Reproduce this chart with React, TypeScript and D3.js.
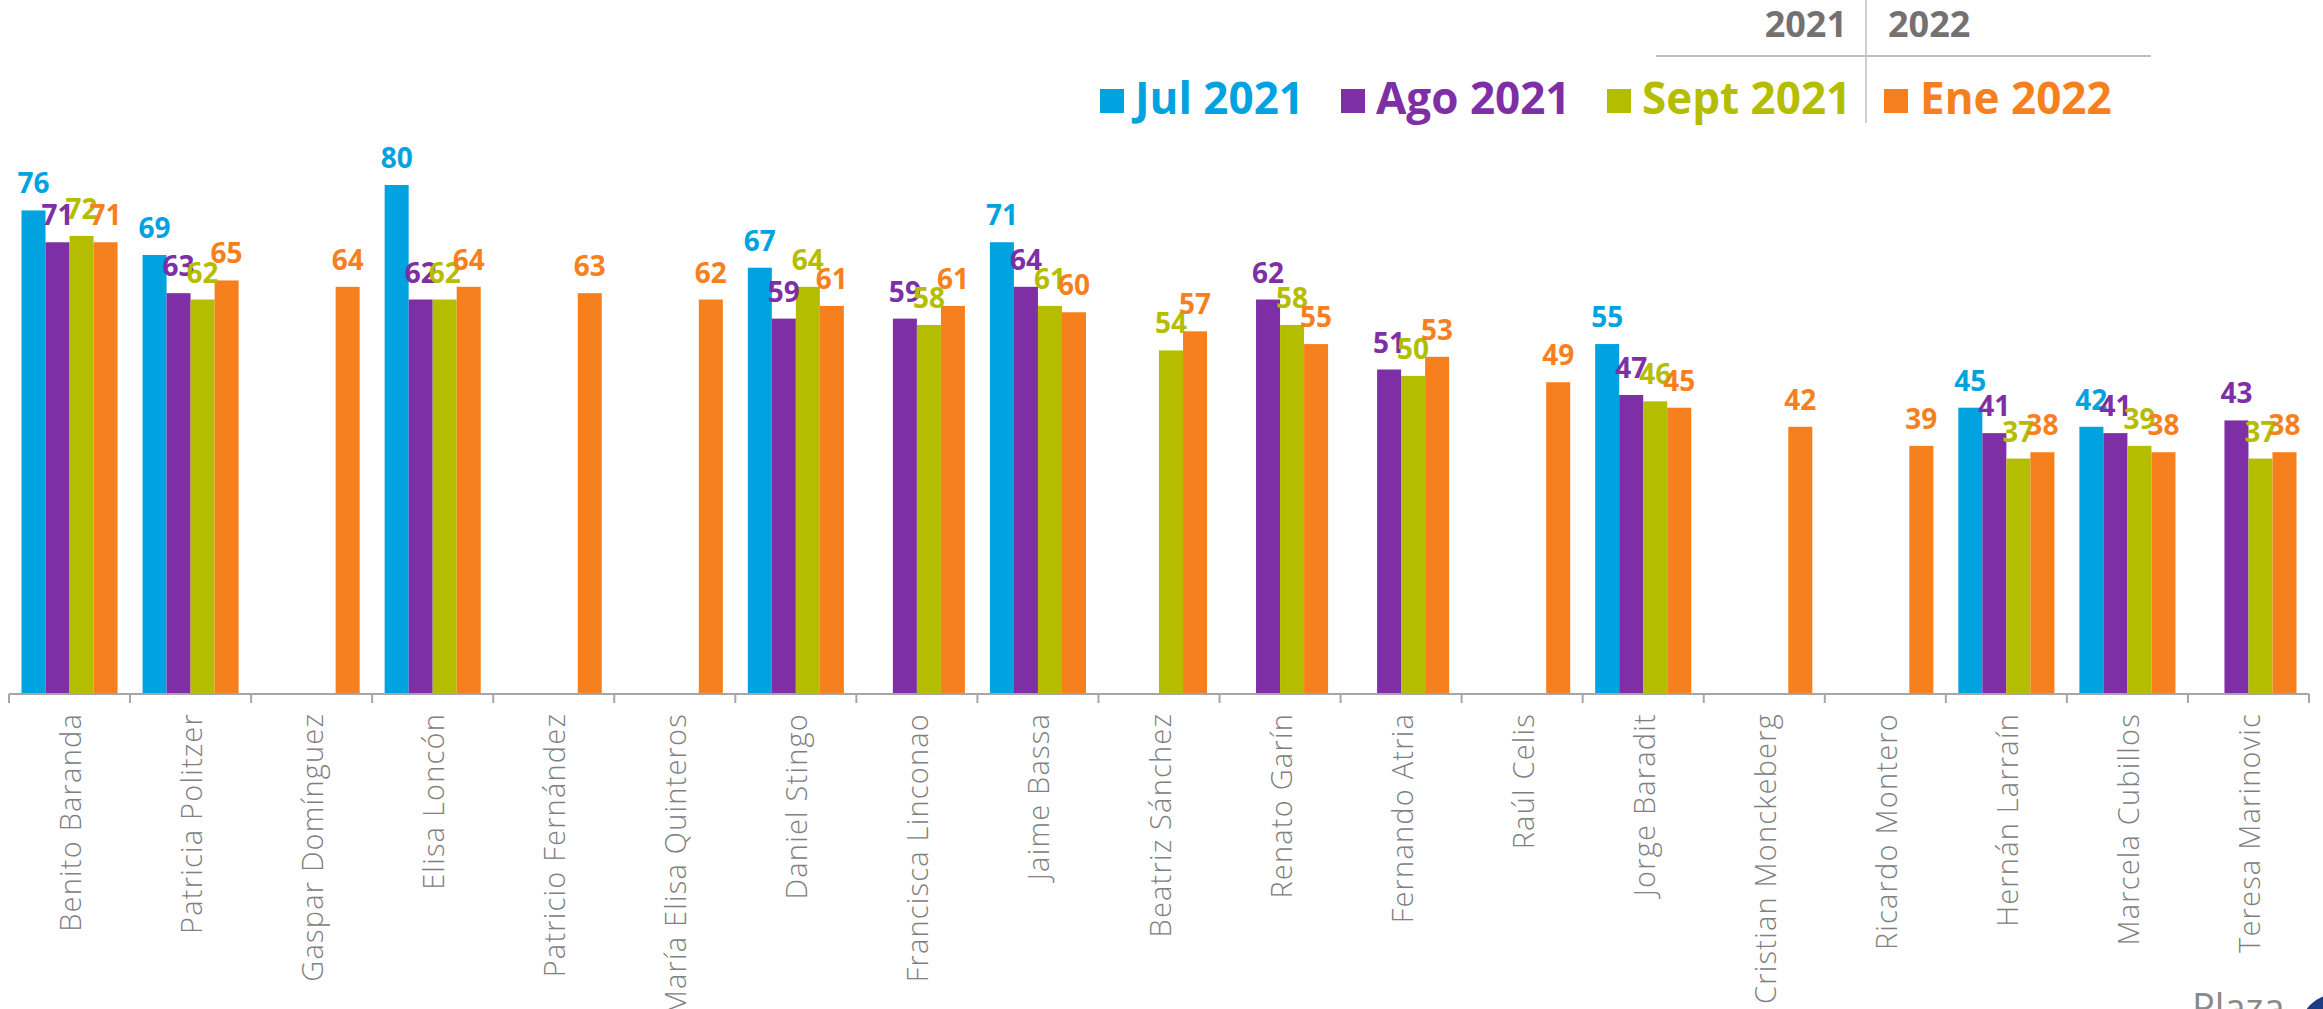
import React from 'react';
import { scaleBand, scaleLinear } from 'd3';

// Candidates (x axis)
const names = [
  'Benito Baranda',
  'Patricia Politzer',
  'Gaspar Domínguez',
  'Elisa Loncón',
  'Patricio Fernández',
  'María Elisa Quinteros',
  'Daniel Stingo',
  'Francisca Linconao',
  'Jaime Bassa',
  'Beatriz Sánchez',
  'Renato Garín',
  'Fernando Atria',
  'Raúl Celis',
  'Jorge Baradit',
  'Cristian Monckeberg',
  'Ricardo Montero',
  'Hernán Larraín',
  'Marcela Cubillos',
  'Teresa Marinovic',
];

// Series values, null = not measured
const jul2021 = [76, 69, null, 80, null, null, 67, null, 71, null, null, null, null, 55, null, null, 45, 42, null];
const ago2021 = [71, 63, null, 62, null, null, 59, 59, 64, null, 62, 51, null, 47, null, null, 41, 41, 43];
const sept2021 = [72, 62, null, 62, null, null, 64, 58, 61, 54, 58, 50, null, 46, null, null, 37, 39, 37];
const ene2022 = [71, 65, 64, 64, 63, 62, 61, 61, 60, 57, 55, 53, 49, 45, 42, 39, 38, 38, 38];

const seriesNames = ['Jul 2021', 'Ago 2021', 'Sept 2021', 'Ene 2022'];
const seriesValues = [jul2021, ago2021, sept2021, ene2022];
const seriesColors = ['#00A3E0', '#7E2FA5', '#B5BD00', '#F7801E'];
const years = ['2021', '2022'];

const W = 2323;
const H = 1009;
const BASE = 694;
const BOLD = "'Open Sans', sans-serif";

// legend item x positions (square start, text start)
const legendX = [
  [1100, 1135],
  [1341, 1376],
  [1607, 1642],
  [1884, 1920],
];

const App = () => {
  const x0 = scaleBand<string>().domain(names).range([9, 2309]).padding(0);
  const x1 = scaleBand<string>()
    .domain(seriesNames)
    .range([0, x0.bandwidth()])
    .paddingInner(0)
    .paddingOuter(0.52);
  const y = scaleLinear().domain([0, 80]).range([BASE, 185]);

  return (
    <svg
      width={W}
      height={H}
      style={{ position: 'absolute', left: 0, top: 0, background: '#fff' }}
    >
      {/* year header */}
      <line x1={1656} x2={2151} y1={56} y2={56} stroke="#BFBFBF" strokeWidth={2} />
      <line x1={1866} x2={1866} y1={0} y2={123} stroke="#BFBFBF" strokeWidth={1.5} />
      <text x={1847} y={37} textAnchor="end" fontFamily={BOLD} fontWeight={700} fontSize={36} fill="#767171">
        {years[0]}
      </text>
      <text x={1888} y={37} fontFamily={BOLD} fontWeight={700} fontSize={36} fill="#767171">
        {years[1]}
      </text>

      {/* legend */}
      {seriesNames.map((s, i) => (
        <g key={s}>
          <rect x={legendX[i][0]} y={89} width={24} height={24} fill={seriesColors[i]} />
          <text x={legendX[i][1]} y={114} fontFamily={BOLD} fontWeight={700} fontSize={44} fill={seriesColors[i]}>
            {s}
          </text>
        </g>
      ))}

      {/* bars */}
      {names.map((n, ci) => (
        <g key={n} transform={`translate(${x0(n)},0)`}>
          {seriesValues.map((vals, si) => {
            const v = vals[ci];
            if (v == null) return null;
            const bx = x1(seriesNames[si]) as number;
            return (
              <rect
                key={si}
                x={bx}
                y={y(v)}
                width={x1.bandwidth()}
                height={BASE - y(v)}
                fill={seriesColors[si]}
              />
            );
          })}
          {seriesValues.map((vals, si) => {
            const v = vals[ci];
            if (v == null) return null;
            const bx = (x1(seriesNames[si]) as number) + x1.bandwidth() / 2;
            return (
              <text
                key={'l' + si}
                x={bx}
                y={y(v) - 17}
                textAnchor="middle"
                fontFamily={BOLD}
                fontWeight={700}
                fontSize={28}
                fill={seriesColors[si]}
              >
                {v}
              </text>
            );
          })}
        </g>
      ))}

      {/* x axis */}
      <line x1={9} x2={2309} y1={BASE} y2={BASE} stroke="#A6A6A6" strokeWidth={2} />
      {[...names.map((n) => x0(n) as number), 2309].map((t, i) => (
        <line key={i} x1={t} x2={t} y1={BASE} y2={BASE + 9} stroke="#A6A6A6" strokeWidth={2} />
      ))}
      {names.map((n) => {
        const cx = (x0(n) as number) + x0.bandwidth() / 2;
        return (
          <text
            key={n}
            transform={`translate(${cx},713) rotate(-90)`}
            textAnchor="end"
            dominantBaseline="central"
            fontFamily="'Open Sans', sans-serif"
            fontWeight={300}
            fontSize={29}
            letterSpacing={1.2}
            fill="#808080"
          >
            {n}
          </text>
        );
      })}

      {/* logo fragment */}
      <text x={2192} y={1021} fontFamily="'Open Sans', sans-serif" fontSize={38} fill="#8A8A8A">
        Plaza
      </text>
      <circle cx={2336} cy={1030} r={36} fill="#1E3C84" />
    </svg>
  );
};

export default App;
